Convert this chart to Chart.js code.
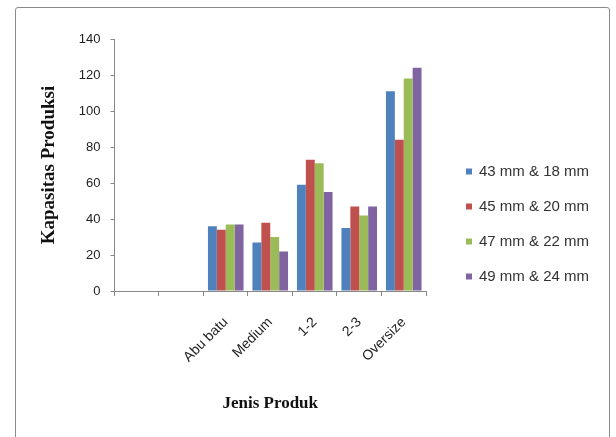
<!DOCTYPE html>
<html>
<head>
<meta charset="utf-8">
<script src="https://cdn.jsdelivr.net/npm/chart.js@4/dist/chart.umd.min.js"></script>
<style>
  html, body { margin: 0; padding: 0; background: #fff; }
  #wrap { position: relative; width: 616px; height: 437px; }
  #frame { position: absolute; left: 15px; top: 7px; width: 595px; height: 440px; border: 1.5px solid #8a8a8a; border-radius: 3px; box-sizing: border-box; pointer-events: none; }
  canvas { position: absolute; left: 0; top: 0; }
</style>
</head>
<body>
<div id="wrap">
  <canvas id="c" width="616" height="437"></canvas>
  <div id="frame"></div>
</div>
<script>
const categories = ["", "", "Abu batu", "Medium", "1-2", "2-3", "Oversize"];
const seriesNames = ["43 mm & 18 mm", "45 mm & 20 mm", "47 mm & 22 mm", "49 mm & 24 mm"];
const s43 = [null, null, 36, 27, 59, 35, 111];
const s45 = [null, null, 34, 38, 73, 47, 84];
const s47 = [null, null, 37, 30, 71, 42, 118];
const s49 = [null, null, 37, 22, 55, 47, 124];
const yTicks = [0, 20, 40, 60, 80, 100, 120, 140];
const colors = ["#4F81BD", "#C0504D", "#9BBB59", "#8064A2"];

const seriesValues = [s43, s45, s47, s49];
const datasets = seriesNames.map((n, i) => ({
  label: n,
  data: seriesValues[i],
  backgroundColor: colors[i],
  borderWidth: 0,
  categoryPercentage: 0.8,
  barPercentage: 1.0
}));

// Legend drawn beside the plot from the chart's own dataset labels/colours
const sideLegend = {
  id: 'sideLegend',
  afterDraw(chart) {
    const ctx = chart.ctx;
    const ds = chart.data.datasets;
    const rowGap = 35;
    const centerY = 224;
    const boxX = 466, box = 6, textX = 479;
    const startY = centerY - rowGap * (ds.length - 1) / 2;
    ctx.save();
    ctx.font = '15px "Liberation Sans"';
    ctx.textBaseline = 'middle';
    ctx.textAlign = 'left';
    ds.forEach((d, i) => {
      const y = startY + i * rowGap;
      ctx.fillStyle = d.backgroundColor;
      ctx.fillRect(boxX, y - box / 2, box, box);
      ctx.fillStyle = '#333';
      ctx.fillText(d.label, textX, y);
    });
    ctx.restore();
  }
};

new Chart(document.getElementById('c'), {
  type: 'bar',
  data: { labels: categories, datasets },
  plugins: [sideLegend],
  options: {
    responsive: false,
    animation: false,
    layout: { padding: { left: 38, right: 190, top: 39, bottom: 23 } },
    plugins: {
      legend: { display: false },
      tooltip: { enabled: false }
    },
    scales: {
      x: {
        offset: true,
        grid: { display: true, offset: true, drawOnChartArea: false, drawTicks: true, tickLength: 5, color: '#888' },
        border: { color: '#888' },
        ticks: { minRotation: 45, maxRotation: 45, padding: 18, color: '#222', font: { family: 'Liberation Sans', size: 14 } },
        title: { display: true, text: 'Jenis Produk', color: '#111', font: { family: 'Liberation Serif', size: 17, weight: 'bold' }, padding: { top: 10, bottom: 0 } }
      },
      y: {
        min: 0, max: 140,
        afterBuildTicks: (axis) => { axis.ticks = yTicks.map(v => ({ value: v })); },
        grid: { display: true, drawOnChartArea: false, drawTicks: true, tickLength: 4, color: '#888' },
        border: { color: '#888' },
        ticks: { color: '#222', padding: 10, font: { family: 'Liberation Sans', size: 13 } },
        title: { display: true, text: 'Kapasitas Produksi', color: '#111', font: { family: 'Liberation Serif', size: 19, weight: 'bold' }, padding: { top: 0, bottom: 8 } }
      }
    }
  }
});
</script>
</body>
</html>
